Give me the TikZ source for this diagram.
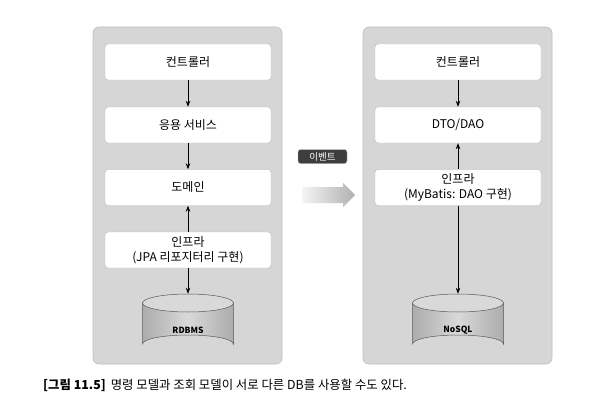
\documentclass[tikz,border=0pt]{standalone}
\usepackage{fontspec}
\setmainfont{Noto Sans CJK KR}
\usetikzlibrary{arrows.meta}
\definecolor{panelgray}{RGB}{214,214,214}
\definecolor{panelline}{RGB}{192,192,192}
\definecolor{boxline}{RGB}{185,185,185}
\definecolor{evfill}{RGB}{62,62,62}
\tikzset{
  panel/.style={fill=panelgray, draw=panelline, rounded corners=6pt, line width=0.6pt},
  layerbox/.style={fill=white, draw=boxline, rounded corners=3pt, minimum width=166pt, minimum height=36pt, inner sep=0pt, font=\fontsize{12}{15}\selectfont, align=center},
  flow/.style={-{Stealth[length=6pt,width=4.5pt]}, line width=0.8pt, black},
  dbhull/.style={minimum width=91pt, minimum height=59pt, inner sep=0pt},
  dblabel/.style={font=\bfseries\fontsize{8.5}{10}\selectfont},
}
\begin{document}
\begin{tikzpicture}[x=1pt,y=-1pt]
\useasboundingbox (0,0) rectangle (602,404);
\fill[white] (0,0) rectangle (602,404);
% panels
\draw[panel] (93,27) rectangle (282,364);
\draw[panel] (363,27) rectangle (552,364);
% left column
\node[layerbox] (lc) at (188,62) {컨트롤러};
\node[layerbox] (ls) at (188,125) {응용 서비스};
\node[layerbox] (ld) at (188,187.5) {도메인};
\node[layerbox] (li) at (188,250) {인프라\\(JPA 리포지터리 구현)};
% cylinders
\foreach \cx/\nm/\lb in {188/ldb/RDBMS, 458/rdb/NoSQL}{
  \shade[left color=gray!65, right color=gray!65, middle color=gray!30, draw=gray!70!black, line width=0.5pt]
    (\cx-45.5,303) -- (\cx-45.5,344) arc[start angle=180, end angle=360, x radius=45.5, y radius=9] -- (\cx+45.5,303) -- cycle;
  \draw[fill=gray!30, draw=gray!70!black, line width=0.5pt] (\cx,303) ellipse[x radius=45.5, y radius=9];
  \node[dbhull] (\nm) at (\cx,323.5) {};
  \node[dblabel] at (\cx,330) {\lb};
}
\draw[flow] (lc) -- (ls);
\draw[flow] (ls) -- (ld);
\draw[flow] (li) -- (ld);
\draw[flow] (li) -- (ldb);
% right column
\node[layerbox] (rc) at (458,62) {컨트롤러};
\node[layerbox] (rd) at (458,125) {DTO/DAO};
\node[layerbox] (ri) at (458,187.5) {인프라\\(MyBatis: DAO 구현)};
\draw[flow] (rc) -- (rd);
\draw[flow] (ri) -- (rd);
\draw[flow] (ri) -- (rdb);
% event
\node[fill=evfill, draw=gray!50, rounded corners=2.5pt, text=white, minimum width=49pt, minimum height=14pt, inner sep=0pt, font=\fontsize{9.5}{11}\selectfont] (ev) at (322.5,156.5) {이벤트};
\shade[left color=gray!8, right color=gray!62]
  (302,187) -- (343,187) -- (343,183) -- (355,195) -- (343,207) -- (343,203) -- (302,203) -- cycle;
% caption
\node[anchor=west, inner sep=0pt, font=\fontsize{12.4}{14}\selectfont] (cap) at (43,385) {\textbf{[그림 11.5]}\hspace{5pt}명령 모델과 조회 모델이 서로 다른 DB를 사용할 수도 있다.};
\end{tikzpicture}
\end{document}
